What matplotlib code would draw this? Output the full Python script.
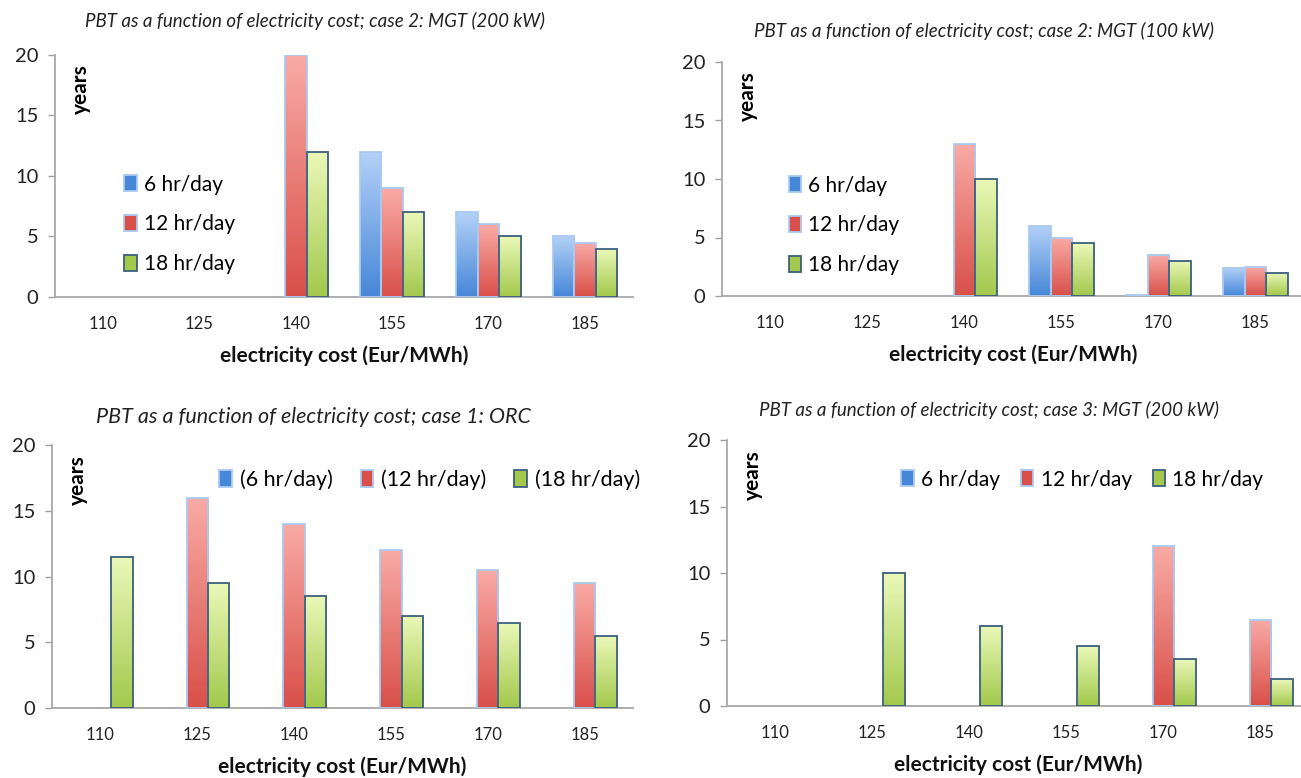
import numpy as np
import matplotlib
matplotlib.use('Agg')
import matplotlib.pyplot as plt
from matplotlib.patches import Patch
from matplotlib.colors import LinearSegmentedColormap

plt.rcParams['font.family'] = ['Lato', 'DejaVu Sans']

# electricity cost categories (Eur/MWh)
costs = ['110', '125', '140', '155', '170', '185']

# payback time in years, one list per operating regime
mgt200_6h = [0, 0, 0, 12, 7, 5]
mgt200_12h = [0, 0, 20, 9, 6, 4.5]
mgt200_18h = [0, 0, 12, 7, 5, 4]

mgt100_6h = [0, 0, 0, 6, 0.1, 2.4]
mgt100_12h = [0, 0, 13, 5, 3.5, 2.5]
mgt100_18h = [0, 0, 10, 4.5, 3, 2]

orc_6h = [0, 0, 0, 0, 0, 0]
orc_12h = [0, 16, 14, 12, 10.5, 9.5]
orc_18h = [11.5, 9.5, 8.5, 7, 6.5, 5.5]

c3_6h = [0, 0, 0, 0, 0, 0]
c3_12h = [0, 0, 0, 0, 12, 6.5]
c3_18h = [0, 10, 6, 4.5, 3.5, 2]

# bar styles: (top colour, bottom colour, edge colour)
styles = [('#b3d1f7', '#4787d8', '#a9c9f2'),
          ('#f9aaa5', '#d9504a', '#a9c9f2'),
          ('#eaf8b8', '#a3c94c', '#3b5f7e')]

W = 1301
H = 778


def gradient_bars(ax, x, vals, style):
    top, bottom, edge = style
    cmap = LinearSegmentedColormap.from_list('g', [bottom, top])
    grad = np.linspace(0, 1, 64).reshape(-1, 1)
    lw = [1.3 if v > 0 else 0 for v in vals]
    bars = ax.bar(x, vals, width=0.222, facecolor='none', edgecolor=edge,
                  linewidth=lw, zorder=3)
    for b in bars:
        h = b.get_height()
        if h <= 0:
            continue
        x0 = b.get_x()
        im = ax.imshow(grad, cmap=cmap, origin='lower', aspect='auto',
                       extent=(x0, x0 + b.get_width(), 0, h), zorder=2)
        im.set_clip_path(b)
    return bars


def panel(rect, title, series, labels, tsize, tpad, legend_kw):
    l, t, r, b = rect
    ax = fig.add_axes([l / W, 1 - b / H, (r - l) / W, (b - t) / H])
    x = np.arange(len(costs))
    for k, vals in enumerate(series):
        gradient_bars(ax, x + (k - 1) * 0.222, vals, styles[k])
    ax.set_xlim(-0.5, 5.5)
    ax.set_ylim(0, 20)
    ax.set_yticks([0, 5, 10, 15, 20])
    ax.set_xticks(x)
    ax.set_xticklabels(costs, fontsize=12, color='#222222')
    ax.tick_params(axis='x', length=0, pad=14)
    ax.tick_params(axis='y', length=5, width=1, color='#a0a0a0',
                   labelsize=14.5, pad=7, labelcolor='#222222')
    for s in ['top', 'right']:
        ax.spines[s].set_visible(False)
    for s in ['left', 'bottom']:
        ax.spines[s].set_color('#a8a8a8')
        ax.spines[s].set_linewidth(1.3)
    ax.set_xlabel('electricity cost (Eur/MWh)', fontsize=15,
                  fontweight='bold', labelpad=9, color='#111111')
    ax.set_title(title, fontsize=tsize, style='italic', pad=tpad,
                 color='#222222', x=0.45)
    ax.text(0.045, 0.96, 'years', transform=ax.transAxes, rotation=90,
            ha='center', va='top', fontsize=15, fontweight='bold')
    handles = [Patch(facecolor=st[1], edgecolor=st[2], linewidth=1.3)
               for st in styles]
    ax.legend(handles, labels, frameon=False, handlelength=0.6,
              handleheight=0.8, handletextpad=0.35,
              borderaxespad=0, **legend_kw)
    return ax


fig = plt.figure(figsize=(W / 100, H / 100), dpi=100)

hrs = ['6 hr/day', '12 hr/day', '18 hr/day']
hrs_par = ['(6 hr/day)', '(12 hr/day)', '(18 hr/day)']

panel((55, 55, 633, 297), 'PBT as a function of electricity cost; case 2: MGT (200 kW)',
      [mgt200_6h, mgt200_12h, mgt200_18h], hrs, 13.5, 20,
      dict(loc='upper left', bbox_to_anchor=(0.105, 0.54), labelspacing=0.95,
           fontsize=15))
panel((722, 62, 1304, 296), 'PBT as a function of electricity cost; case 2: MGT (100 kW)',
      [mgt100_6h, mgt100_12h, mgt100_18h], hrs, 13.5, 18,
      dict(loc='upper left', bbox_to_anchor=(0.1, 0.55), labelspacing=0.95,
           fontsize=15))
panel((52, 445, 633, 708), 'PBT as a function of electricity cost; case 1: ORC',
      [orc_6h, orc_12h, orc_18h], hrs_par, 15.5, 16,
      dict(loc='upper left', bbox_to_anchor=(0.273, 0.94), ncol=3,
           columnspacing=1.3, fontsize=15.5))
panel((727, 440, 1309, 706), 'PBT as a function of electricity cost; case 3: MGT (200 kW)',
      [c3_6h, c3_12h, c3_18h], hrs, 13.5, 17,
      dict(loc='upper left', bbox_to_anchor=(0.285, 0.92), ncol=3,
           columnspacing=1.0, fontsize=15))

fig.savefig('out.png', dpi=100)
